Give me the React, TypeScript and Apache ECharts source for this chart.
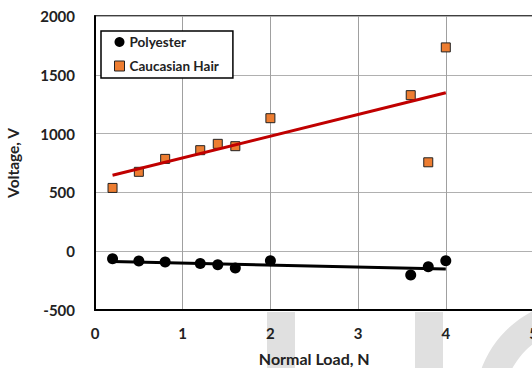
import React, { useEffect, useRef } from "react";
import * as echarts from "echarts";

const loads = [0.2, 0.5, 0.8, 1.2, 1.4, 1.6, 2.0, 3.6, 3.8, 4.0];
const polyester = [-64, -84, -92, -104, -115, -143, -81, -203, -132, -81];
const hair = [538, 675, 785, 859, 913, 893, 1131, 1327, 756, 1733];
const trendX = [0.2, 4.0];
const polyesterTrend = [-87, -152];
const hairTrend = [646, 1347];
const xTicks = [0, 1, 2, 3, 4, 5];
const yTicks = [-500, 0, 500, 1000, 1500, 2000];

const FONT = "Lato";

export default function App() {
  const ref = useRef<HTMLDivElement>(null);
  useEffect(() => {
    if (!ref.current) return;
    const chart = echarts.init(ref.current, undefined, { renderer: "svg" });
    chart.setOption({
      animation: false,
      backgroundColor: "#ffffff",
      textStyle: { fontFamily: FONT },
      graphic: [
        { type: "rect", z: -10, shape: { x: 267, y: 312, width: 28, height: 60 }, style: { fill: "#e0e0e0" } },
        { type: "rect", z: -10, shape: { x: 415, y: 312, width: 28, height: 60 }, style: { fill: "#e0e0e0" } },
        { type: "ring", z: -10, shape: { cx: 580, cy: 405, r: 105, r0: 77 }, style: { fill: "#e0e0e0" } },
      ],
      grid: {
        left: 95,
        top: 16,
        right: -1.5,
        bottom: 58,
        outerBoundsMode: "none",
        containLabel: false,
        show: true,
        borderColor: "#000",
        borderWidth: 1.5,
        backgroundColor: "transparent",
      },
      legend: {
        orient: "vertical",
        left: 101,
        top: 31,
        backgroundColor: "#fff",
        borderColor: "#000",
        borderWidth: 1.5,
        padding: [4, 14, 5, 13],
        itemGap: 10,
        itemWidth: 10,
        itemHeight: 10,
        textStyle: { fontFamily: FONT, fontWeight: "bold", fontSize: 13.5, color: "#222", lineHeight: 14 },
        data: [
          { name: "Polyester", icon: "circle", itemStyle: { opacity: 1 } },
          { name: "Caucasian Hair", icon: "rect", itemStyle: { borderColor: "#222", borderWidth: 1, opacity: 1 } },
        ],
      },
      xAxis: {
        type: "value",
        min: xTicks[0],
        max: xTicks[xTicks.length - 1],
        interval: 1,
        name: "Normal Load, N",
        nameLocation: "middle",
        nameGap: 40,
        nameTextStyle: { fontFamily: FONT, fontWeight: "bold", fontSize: 16, color: "#222" },
        axisLine: { show: true, onZero: false, lineStyle: { color: "#000", width: 2 } },
        axisTick: { show: false },
        axisLabel: {
          fontFamily: FONT, fontWeight: "bold", fontSize: 15, color: "#222", margin: 15,
          formatter: (v: number) => String(v),
        },
        splitLine: { show: true, lineStyle: { color: "#a0a0a0", width: 1 } },
      },
      yAxis: {
        type: "value",
        min: yTicks[0],
        max: yTicks[yTicks.length - 1],
        interval: 500,
        name: "Voltage, V",
        nameLocation: "middle",
        nameGap: 74,
        nameTextStyle: { fontFamily: FONT, fontWeight: "bold", fontSize: 15.5, color: "#222" },
        axisLine: { show: true, onZero: false, lineStyle: { color: "#000", width: 2 } },
        axisTick: { show: false },
        axisLabel: {
          fontFamily: FONT, fontWeight: "bold", fontSize: 15, color: "#222", margin: 20,
          formatter: (v: number) => String(v),
        },
        splitLine: { show: true, lineStyle: { color: "#b0b0b0", width: 1 } },
      },
      series: [
        {
          name: "Polyester",
          type: "scatter",
          symbol: "circle",
          symbolSize: 11,
          itemStyle: { color: "#000", opacity: 1 },
          data: loads.map((x, i) => [x, polyester[i]]),
          z: 3,
        },
        {
          name: "Caucasian Hair",
          type: "scatter",
          symbol: "rect",
          symbolSize: 9,
          itemStyle: { color: "#ed7d31", borderColor: "#222", borderWidth: 1, opacity: 1 },
          data: loads.map((x, i) => [x, hair[i]]),
          z: 3,
        },
        {
          name: "Polyester trend",
          type: "line",
          symbol: "none",
          lineStyle: { color: "#000", width: 3 },
          data: trendX.map((x, i) => [x, polyesterTrend[i]]),
          z: 4,
        },
        {
          name: "Hair trend",
          type: "line",
          symbol: "none",
          lineStyle: { color: "#c00000", width: 3 },
          data: trendX.map((x, i) => [x, hairTrend[i]]),
          z: 4,
        },
      ],
    });
    return () => chart.dispose();
  }, []);
  return <div ref={ref} style={{ position: "absolute", left: 0, top: 0, width: 532, height: 368 }} />;
}
